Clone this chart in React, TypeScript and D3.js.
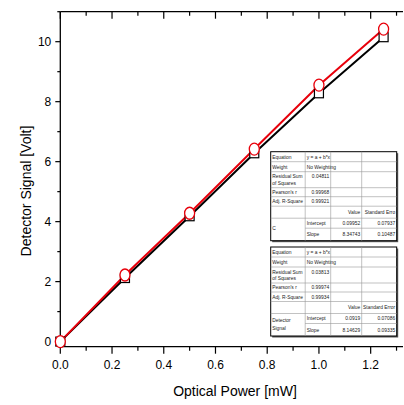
import React, { useEffect, useRef } from "react";
import * as d3 from "d3";

// data
const power = [0, 0.25, 0.5, 0.75, 1.0, 1.25];
const signalBlack = [0, 2.12, 4.18, 6.28, 8.28, 10.15];
const signalRed = [0, 2.22, 4.28, 6.42, 8.55, 10.42];

const xTicks = [0, 0.2, 0.4, 0.6, 0.8, 1.0, 1.2];
const yTicks = [0, 2, 4, 6, 8, 10];

const table1 = {
  residual: "0.04811",
  pearson: "0.99968",
  adj: "0.99921",
  label: ["C"],
  intercept: ["0.09952", "0.07937"],
  slope: ["8.34743", "0.10487"],
  errHead: "Standard Erro",
};
const table2 = {
  residual: "0.03813",
  pearson: "0.99974",
  adj: "0.99934",
  label: ["Detector", "Signal"],
  intercept: ["0.0919", "0.07086"],
  slope: ["8.14629", "0.09335"],
  errHead: "Standard Error",
};

const W = 404;
const H = 405;

const App = () => {
  const ref = useRef<SVGSVGElement>(null);

  useEffect(() => {
    const svg = d3.select(ref.current);
    svg.selectAll("*").remove();
    const font = "'Liberation Sans', Arial, sans-serif";

    const x = d3.scaleLinear().domain([0, 1.325]).range([60.3, 403]);
    const y = d3.scaleLinear().domain([-0.17, 11]).range([346.7, 11.7]);

    const left = 60.3, right = 403, top = 11.7, bottom = 346.7;

    // frame
    const g = svg.append("g").attr("stroke", "#000").attr("stroke-width", 1.3);
    g.append("line").attr("x1", left).attr("x2", right).attr("y1", bottom).attr("y2", bottom);
    g.append("line").attr("x1", left).attr("x2", right).attr("y1", top).attr("y2", top);
    g.append("line").attr("x1", left).attr("x2", left).attr("y1", top).attr("y2", bottom);

    const xMinor = d3.range(0, 1.35, 0.1);
    const yMinor = d3.range(0, 11.01, 1);
    const tk = svg.append("g").attr("stroke", "#000").attr("stroke-width", 1.2);
    xMinor.forEach((v, i) => {
      const major = i % 2 === 0;
      const len = major ? 7 : 4;
      tk.append("line").attr("x1", x(v)).attr("x2", x(v)).attr("y1", bottom).attr("y2", bottom + len);
      tk.append("line").attr("x1", x(v)).attr("x2", x(v)).attr("y1", top).attr("y2", top + len);
    });
    yMinor.forEach((v, i) => {
      const major = i % 2 === 0;
      const len = major ? 5 : 3;
      tk.append("line").attr("x1", left - len).attr("x2", left).attr("y1", y(v)).attr("y2", y(v));
    });

    svg.append("g").selectAll("text").data(xTicks).join("text")
      .attr("x", (d) => x(d)).attr("y", bottom + 22)
      .attr("text-anchor", "middle").attr("font-family", font).attr("font-size", 12)
      .text((d) => d3.format(".1f")(d));
    svg.append("g").selectAll("text").data(yTicks).join("text")
      .attr("x", left - 9).attr("y", (d) => y(d) + 4.5)
      .attr("text-anchor", "end").attr("font-family", font).attr("font-size", 12)
      .text((d) => d);

    svg.append("text").attr("x", 235).attr("y", 396).attr("text-anchor", "middle")
      .attr("font-family", font).attr("font-size", 14).text("Optical Power [mW]");
    svg.append("text").attr("transform", "translate(31,191) rotate(-90)").attr("text-anchor", "middle")
      .attr("font-family", font).attr("font-size", 14).text("Detector Signal [Volt]");

    // series
    const line = d3.line<number>().x((d, i) => x(power[i])).y((d) => y(d));
    svg.append("path").datum(signalBlack).attr("d", line).attr("fill", "none")
      .attr("stroke", "#000").attr("stroke-width", 2);
    svg.append("path").datum(signalRed).attr("d", line).attr("fill", "none")
      .attr("stroke", "#e8000b").attr("stroke-width", 2);
    svg.append("g").selectAll("rect").data(signalBlack).join("rect")
      .attr("x", (d, i) => x(power[i]) - 4.5).attr("y", (d) => y(d) - 4.5)
      .attr("width", 9).attr("height", 9)
      .attr("fill", "#fff").attr("stroke", "#000").attr("stroke-width", 1.2);
    svg.append("g").selectAll("ellipse").data(signalRed).join("ellipse")
      .attr("cx", (d, i) => x(power[i])).attr("cy", (d) => y(d))
      .attr("rx", 5).attr("ry", 6)
      .attr("fill", "#fff").attr("stroke", "#e8000b").attr("stroke-width", 1.3);

    // fit tables
    const drawTable = (t: typeof table1, tx: number, ty: number) => {
      const cols = [tx, tx + 34.5, tx + 60, tx + 91, tx + 126];
      const rowH = [10, 10, 16, 9, 9.5, 12, 10, 12.5];
      const rows = [ty];
      rowH.forEach((h) => rows.push(rows[rows.length - 1] + h));
      const tg = svg.append("g");
      tg.append("rect").attr("x", tx + 1.5).attr("y", ty + 1.5)
        .attr("width", cols[4] - tx).attr("height", rows[8] - ty).attr("fill", "#555");
      tg.append("rect").attr("x", tx).attr("y", ty)
        .attr("width", cols[4] - tx).attr("height", rows[8] - ty)
        .attr("fill", "#fff").attr("stroke", "#000").attr("stroke-width", 1);
      const grid = tg.append("g").attr("stroke", "#999").attr("stroke-width", 0.6);
      for (let r = 1; r < 8; r++) {
        const x0 = r === 7 ? cols[1] : tx;
        grid.append("line").attr("x1", x0).attr("x2", cols[4]).attr("y1", rows[r]).attr("y2", rows[r]);
      }
      for (let c = 1; c < 4; c++) {
        grid.append("line").attr("x1", cols[c]).attr("x2", cols[c]).attr("y1", ty).attr("y2", rows[8]);
      }
      const txt = (s: string, xx: number, yy: number, anchor = "start") =>
        tg.append("text").attr("x", xx).attr("y", yy).attr("text-anchor", anchor)
          .attr("font-family", font).attr("font-size", 4.9).attr("fill", "#222").text(s);
      const mid = (r: number) => (rows[r] + rows[r + 1]) / 2 + 1.8;
      txt("Equation", tx + 1.5, mid(0));
      txt("y = a + b*x", cols[1] + 1.5, mid(0));
      txt("Weight", tx + 1.5, mid(1));
      txt("No Weighting", cols[1] + 1.5, mid(1));
      txt("Residual Sum", tx + 1.5, rows[2] + 6.5);
      txt("of Squares", tx + 1.5, rows[2] + 13);
      txt(t.residual, cols[2] - 1.5, rows[2] + 6.5, "end");
      txt("Pearson's r", tx + 1.5, mid(3));
      txt(t.pearson, cols[2] - 1.5, mid(3), "end");
      txt("Adj. R-Square", tx + 1.5, mid(4));
      txt(t.adj, cols[2] - 1.5, mid(4), "end");
      txt("Value", cols[3] - 1.5, mid(5), "end");
      txt(t.errHead, cols[4] - 1.5, mid(5), "end");
      if (t.label.length === 1) {
        txt(t.label[0], tx + 1.5, rows[7] + 2);
      } else {
        txt(t.label[0], tx + 1.5, rows[7] - 2);
        txt(t.label[1], tx + 1.5, rows[7] + 6);
      }
      txt("Intercept", cols[1] + 1.5, mid(6));
      txt(t.intercept[0], cols[3] - 1.5, mid(6), "end");
      txt(t.intercept[1], cols[4] - 1.5, mid(6), "end");
      txt("Slope", cols[1] + 1.5, mid(7));
      txt(t.slope[0], cols[3] - 1.5, mid(7), "end");
      txt(t.slope[1], cols[4] - 1.5, mid(7), "end");
    };
    drawTable(table1, 270.7, 151.7);
    drawTable(table2, 270.7, 247);
  }, []);

  return (
    <svg ref={ref} width={W} height={H}
      style={{ position: "absolute", left: 0, top: 0, background: "#fff" }} />
  );
};

export default App;
